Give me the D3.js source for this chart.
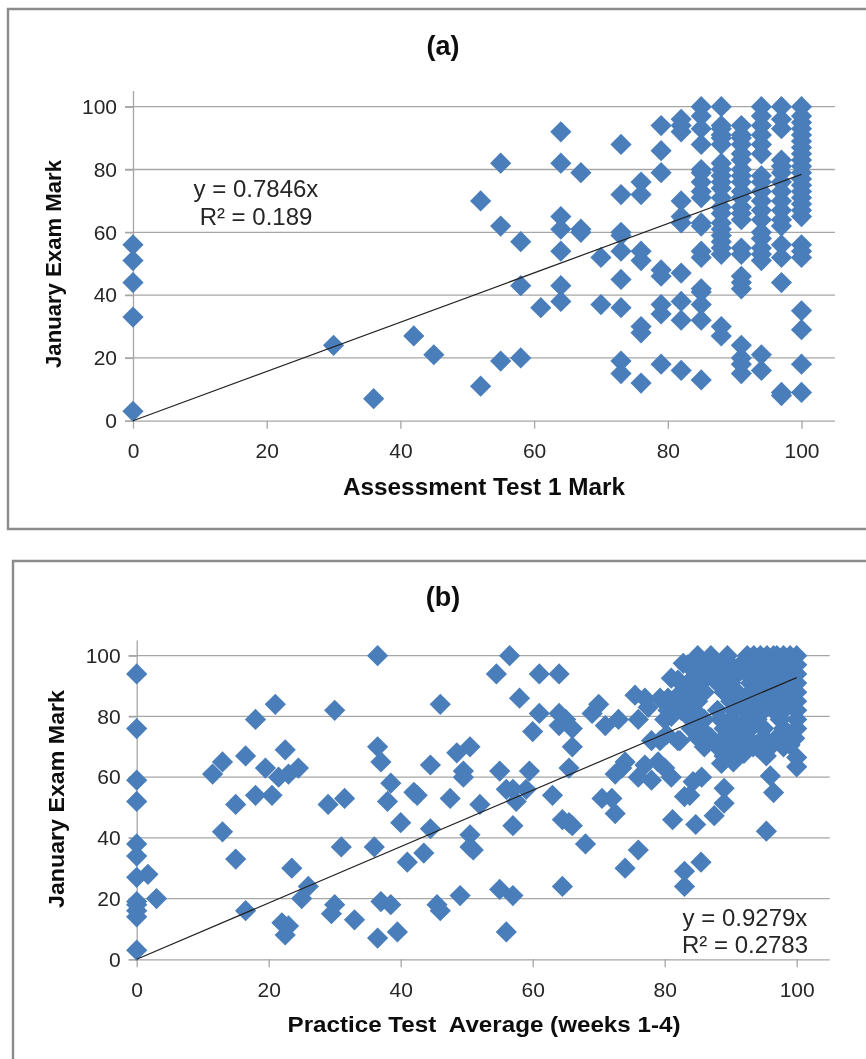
<!DOCTYPE html>
<html><head><meta charset="utf-8">
<script src="https://cdnjs.cloudflare.com/ajax/libs/d3/7.8.5/d3.min.js"></script>
<style>html,body{margin:0;padding:0;background:#fff;overflow:hidden}svg{display:block}text{font-family:"Liberation Sans",Arial,sans-serif}</style>
</head><body><svg id="c" width="866" height="1059"><defs><filter id="soft" x="0" y="0" width="100%" height="100%" filterUnits="userSpaceOnUse"><feGaussianBlur stdDeviation="0.4"/></filter></defs></svg>
<script>
const tickValues = [0,20,40,60,80,100];
const titleA = "(a)", titleB = "(b)";
const xLabelA = "Assessment Test 1 Mark", xLabelB = "Practice Test  Average (weeks 1-4)", yLabel = "January Exam Mark";
const slopeA = 0.7846, slopeB = 0.9279;
const eqA = ["y = 0.7846x","R² = 0.189"], eqB = ["y = 0.9279x","R² = 0.2783"];

// Panel (a): assessment test marks and the exam marks seen at each
const testMarks = [0,30,36,42,45,52,55,58,61,64,67,70,73,76,79,82,85,88,91,94,97,100];
const examByTest = [
 [3,33,44,51,56],[24],[7],[27],[21],[11,70],[19,62,82],[20,43,57],[36],
 [38,43,54,61,65,82,92],[60,61,79],[37,52],[15,19,36,45,54,59,60,72,88],
 [12,28,30,51,54,72,76],[18,34,37,46,48,79,86,94],[16,32,38,47,63,65,70,92,94,96],
 [13,32,37,41,42,52,54,62,63,71,73,76,79,80,88,93,97,100],
 [27,30,53,55,57,59,61,63,66,68,71,74,76,78,80,82,88,90,91,93,94,100],
 [15,18,20,24,42,44,46,53,55,64,66,68,71,73,76,78,80,83,85,88,90,91,94],
 [16,21,51,53,55,58,60,64,67,70,73,76,78,85,88,91,94,97,100],
 [8,9,44,52,56,62,64,67,70,73,76,79,81,83,93,96,100],
 [9,18,29,35,52,54,56,65,67,69,71,73,75,77,79,81,83,85,87,89,91,93,95,97,100]
];

// Panel (b): practice average, exam mark
const practiceSparse = [
 [0,3],[0,14],[0,16],[0,18],[0,19],[0,27],[0,34],[0,38],[0,52],[0,59],[0,76],[0,94],[1.7,28],[3,20],
 [11.5,61],[13,65],[13,42],[15,51],[15,33],[16.5,67],[16.5,16],[18,79],[18,54],[19.5,63],[20.5,54],[21,84],[21.5,60],
 [22,12],[22.5,8],[22.5,69],[23,11],[23,61],[23.5,30],[24.5,63],[25,20],[26,24],
 [29,51],[29.5,15],[30,18],[30,82],[31,37],[31.5,53],[33,13],[36,37],[36.5,70],[36.5,7],[37,19],[37,65],[36.5,100],
 [38,52],[38.5,58],[38.5,18],[39.5,9],[40,45],[41,32],[42,55],[42.5,54],[43.5,35],[44.5,43],[44.5,64],[45.5,18],[46,16],[46,84],
 [47.5,53],[48.5,68],[49,21],[49.5,60],[49.5,62],[50.5,70],[50.5,41],[50.5,37],[51,36],[52,51],[54.5,94],[55,23],[55,62],
 [56,56],[56,9],[56.5,100],[57,21],[57,44],[57,56],[57.5,52],[58,86],[59,56],[59.5,62],[60,75],[61,81],[61,94],[63,54],[64,94],
 [64,81],[64,77],[64.5,46],[64.5,24],[65,79],[65.5,63],[65.5,45],[66,44],[66,76],[66,70],[68,38],[69,81],[70,84],[70.5,53],
 [71,77],[72,53],[72.5,48],[72.5,61],[73,79],[73.5,63],[74,30],[74,65],[75.5,87],[76,60],[76,79],[76,36],[77,64],[77,86],[77.5,83],[78,59],[78,72]
];
const practiceDense = [
 [79,65],[79.3,72],[79.3,86],[80,63],[80.3,74],[80.5,86],[81,80],[81,60],[81.2,46],[81,92.6],[82,72],[82.3,72],[82.8,97.5],[82,92],[82.5,88],
 [83,24],[83,29],[83.8,54],[83,53.6],[84.3,58.5],[85.6,60],[84.7,44.4],[85.5,32],[87.5,47.3],[89,51.4],[89,56.3],[88.6,64.5],[90.4,65],[92,67.8],[93.4,70],[95.4,67],[96,60.4],[96.5,54.9],[95.4,42.2],[100,63.4],[100,66.5],[99,70.6],[99.7,72.8],
 [85,100],[87,100],[89.5,100],[92.5,100],[93.5,100],[94.5,100],[95.5,100],[96.5,100],[97,100],[98,100],[99,100],[100,100],
 [83.5,97],[84,97],[86,97],[88,97],[90,97],[91.5,97],[93,97],[94.5,97],[96,97],[97.5,97],[99,97],[100,97],
 [85,94],[87,94],[89.5,94],[91,94],[92.5,94],[94,94],[96,94],[98,94],[100,94],
 [83.5,91],[85.5,91],[88,91],[90,91],[93,91],[95,91],[97,91],[99,91],[100,91],
 [84,88],[86,88],[89,88],[91,88],[93,88],[94.5,88],[96.5,88],[98,88],[100,88],
 [81,85],[83,85],[85,85],[90,85],[92,85],[94,85],[95.5,85],[97.5,85],[99,85],[100,85],
 [80.5,82],[82.5,82],[84.5,82],[88,82],[90.5,82],[92,82],[93.5,82],[95,82],[96.5,82],[98,82],[100,82],
 [80,79],[84,79],[86,79],[88.5,79],[90,79],[92.5,79],[94,79],[97.5,79],[100,79],
 [84,76],[85.5,76],[89,76],[91,76],[93,76],[95,76],[98,76],[100,76],
 [85,73],[87,73],[89,73],[90.5,73],[92.5,73],[95,73],[97,73],[98.5,73],
 [86,70],[88,70],[90,70],[92,70],[94,70],[96,70],[98,70],[89,67],[91,67],[93,72]
];

const svg = d3.select("#c");
const gridC = "#a6a6a6", frameC = "#8c8c8c", markC = "#4a7ebb", txt = "#262626", boldC = "#0d0d0d";
const diamond = d3.symbol().type(d3.symbolSquare).size(225);

function panel(o){
  const g = svg.append("g").attr("filter","url(#soft)");
  g.append("path").attr("fill","none").attr("stroke",frameC).attr("stroke-width",2.4)
    .attr("d",`M${o.fx+1000},${o.ft}H${o.fx}V${o.fb}H${o.fx+1000}`);
  const x = d3.scaleLinear().domain([0,100]).range([o.x0,o.x1]);
  const y = d3.scaleLinear().domain([0,100]).range([o.y0,o.y1]);
  const xEnd = x(105), yEnd = y(105);
  g.append("g").selectAll("line").data(tickValues.slice(1)).join("line")
    .attr("x1",x(0)-8).attr("x2",xEnd).attr("y1",d=>y(d)).attr("y2",d=>y(d))
    .attr("stroke",gridC).attr("stroke-width",1.3);
  const ax = g.append("g").attr("transform",`translate(0,${y(0)})`)
    .call(d3.axisBottom(x).tickValues(tickValues).tickSize(8).tickPadding(o.xPad));
  const ay = g.append("g").attr("transform",`translate(${x(0)},0)`)
    .call(d3.axisLeft(y).tickValues(tickValues).tickSize(8).tickPadding(8));
  ax.select(".domain").attr("d",`M${x(0)-8},0.5H${xEnd}`);
  ay.select(".domain").attr("d",`M0.5,${y(0)}V${yEnd}`);
  [ax,ay].forEach(a=>{
    a.selectAll(".domain,line").attr("stroke",gridC).attr("stroke-width",1.3);
    a.selectAll("text").attr("font-size",o.tickFs).attr("fill",txt).attr("font-family",'"Liberation Sans",Arial,sans-serif');
  });
  g.append("g").selectAll("path").data(o.pts).join("path")
    .attr("d",diamond).attr("fill",markC)
    .attr("transform",d=>`translate(${x(d[0])},${y(d[1])}) rotate(45)`);
  g.append("line").attr("x1",x(0)).attr("y1",y(0)).attr("x2",x(100)).attr("y2",y(100*o.slope))
    .attr("stroke","#222").attr("stroke-width",1.2);
  g.append("text").attr("x",o.tx).attr("y",o.ty).attr("text-anchor","middle").attr("font-weight","bold")
    .attr("font-size",27).attr("fill",boldC).text(o.title);
  g.append("text").attr("x",o.xlx).attr("y",o.xly).attr("text-anchor","middle").attr("font-weight","bold")
    .attr("font-size",o.xlFs).attr("fill",boldC).style("white-space","pre")
    .attr("textLength",o.xlW).attr("lengthAdjust","spacingAndGlyphs").text(o.xl);
  g.append("text").attr("transform",`translate(${o.ylx},${o.yly}) rotate(-90)`).attr("text-anchor","middle").attr("font-weight","bold")
    .attr("font-size",o.ylFs).attr("fill",boldC).attr("textLength",o.ylW).attr("lengthAdjust","spacingAndGlyphs").text(yLabel);
  o.eq.forEach((t,i)=>g.append("text").attr("x",o.ex).attr("y",o.ey+i*o.eqLh).attr("text-anchor","middle")
    .attr("font-size",o.eqFs).attr("fill",txt).text(t));
}

panel({fx:8,ft:9,fb:529,x0:133,x1:801.5,y0:420.7,y1:106.7,pts:testMarks.flatMap((t,i)=>examByTest[i].map(v=>[t,v])),
  slope:slopeA,title:titleA,tx:443,ty:55,xl:xLabelA,xlx:484,xly:495,xlFs:23,xlW:282,ylx:61,yly:264,ylFs:22,ylW:208,tickFs:21,xPad:14,eq:eqA,ex:256,ey:197,eqLh:28,eqFs:24});
panel({fx:13,ft:561,fb:1100,x0:136.7,x1:796.7,y0:959.3,y1:655.7,pts:practiceSparse.concat(practiceDense),
  slope:slopeB,title:titleB,tx:443,ty:606,xl:xLabelB,xlx:484,xly:1032,xlFs:22,xlW:393,ylx:64,yly:799,ylFs:22,ylW:218,tickFs:21,xPad:15,eq:eqB,ex:745,ey:926,eqLh:27,eqFs:24});
</script></body></html>
